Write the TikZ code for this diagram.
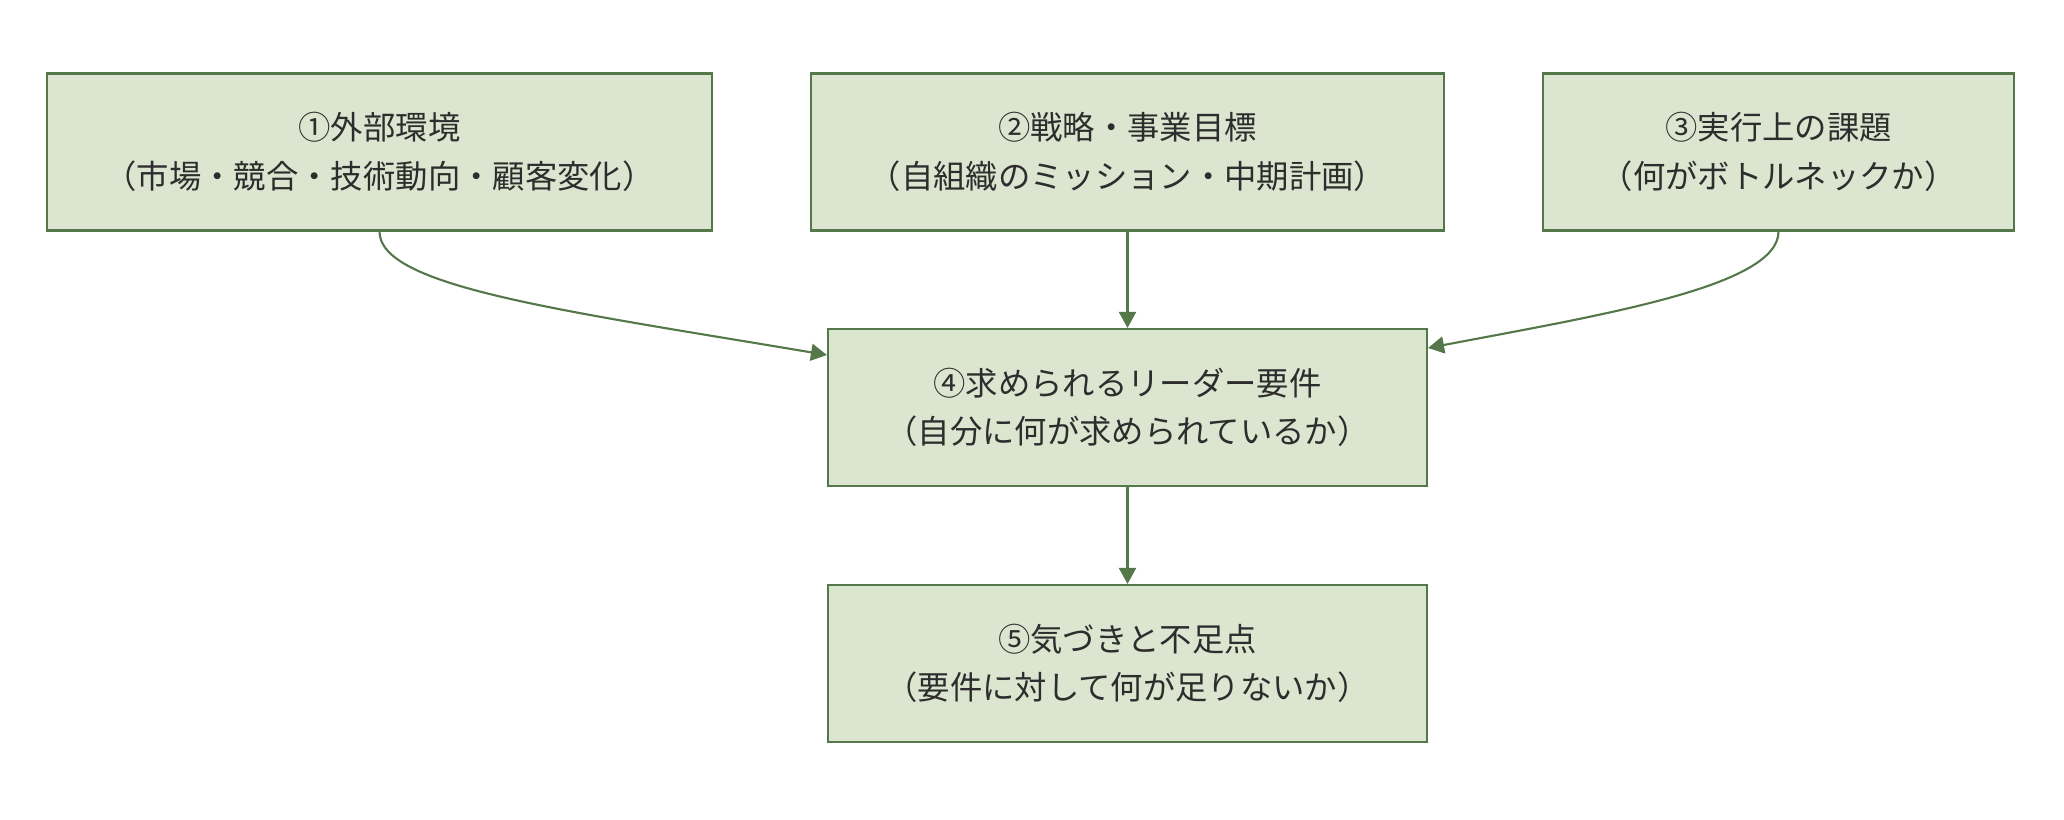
\documentclass[tikz,border=0pt]{standalone}
\usepackage{fontspec}
\setmainfont{Noto Sans CJK JP}
\usetikzlibrary{arrows.meta}

\definecolor{stagefill}{RGB}{220,229,207}
\definecolor{stageline}{RGB}{84,120,74}
\definecolor{stagetext}{RGB}{45,45,45}

\begin{document}
\begin{tikzpicture}[
    >={Triangle[length=0.16cm,width=0.17cm]},
    font=\fontsize{9.2pt}{13.8pt}\selectfont,
    stage/.style={
        draw=stageline, fill=stagefill, rectangle, line width=0.6pt,
        minimum height=1.57cm, inner sep=0pt, align=center, text=stagetext
    },
    flow/.style={->, draw=stageline, line width=0.6pt}
]
\useasboundingbox (0,0) rectangle (20.64,-8.2);

\node[stage, minimum width=6.65cm] (external) at (3.795,-1.52) {①外部環境\\（市場・競合・技術動向・顧客変化）};
\node[stage, minimum width=6.33cm] (strategy) at (11.275,-1.52) {②戦略・事業目標\\（自組織のミッション・中期計画）};
\node[stage, minimum width=4.71cm] (issues) at (17.785,-1.52) {③実行上の課題\\（何がボトルネックか）};

\node[stage, minimum width=5.99cm] (requirement) at (11.275,-4.075) {④求められるリーダー要件\\（自分に何が求められているか）};
\node[stage, minimum width=5.99cm] (gap) at (11.275,-6.635) {⑤気づきと不足点\\（要件に対して何が足りないか）};

\draw[flow] (external.south) .. controls +(0,-0.55) and +(-2.68,0.45) .. ([yshift=0.525cm]requirement.west);
\draw[flow] (strategy) -- (requirement);
\draw[flow] (issues.south) .. controls +(0,-0.55) and +(1.73,0.33) .. ([yshift=0.595cm]requirement.east);
\draw[flow] (requirement) -- (gap);
\end{tikzpicture}
\end{document}
